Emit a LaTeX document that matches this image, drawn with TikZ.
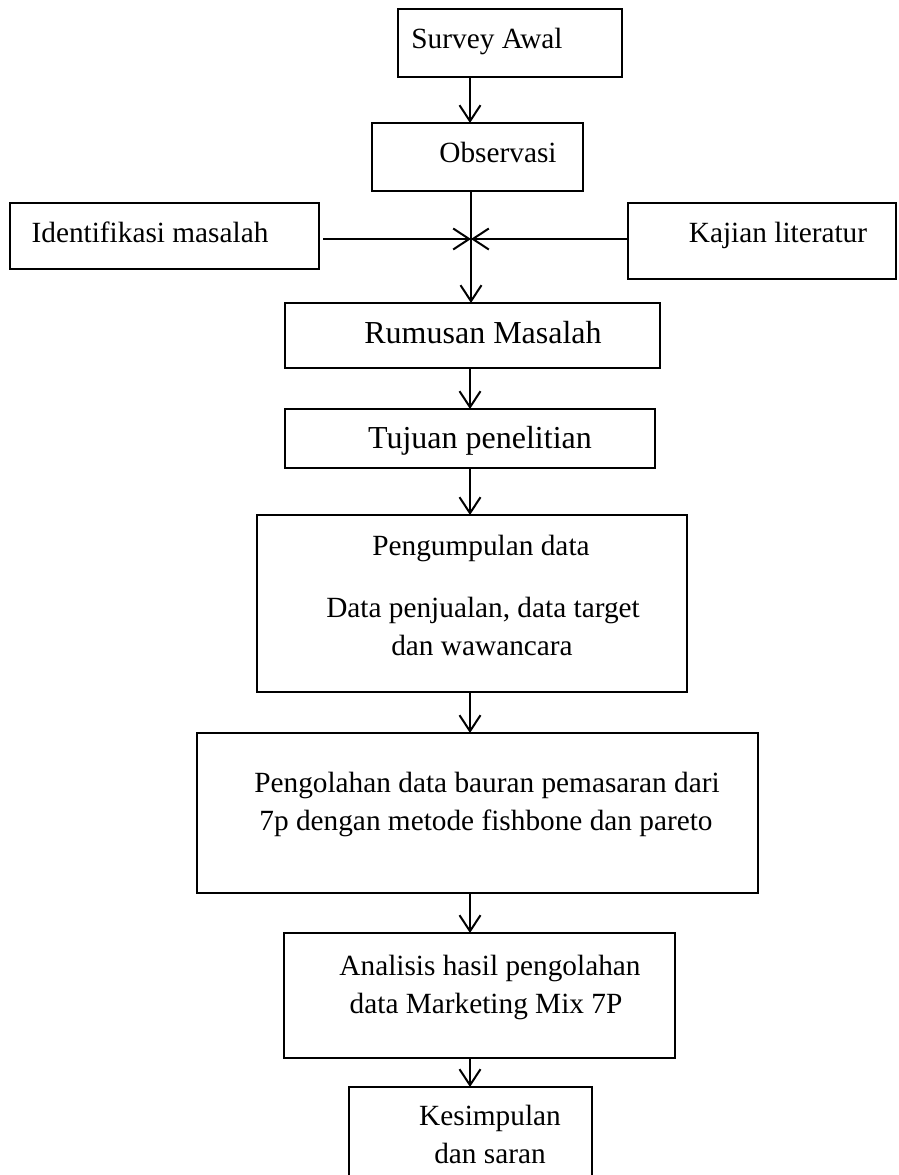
\documentclass[tikz,border=0pt]{standalone}
\usepackage{fontspec}
\setmainfont{Liberation Serif}
\usetikzlibrary{arrows.meta}
\begin{document}
\begin{tikzpicture}[x=1pt,y=-1pt,
  box/.style={draw=black,line width=2.6pt,inner sep=0pt,outer sep=0pt},
  arr/.style={draw=black,line width=2pt,-{Straight Barb[length=16pt,width=21pt,line width=2pt]}},
  txt/.style={anchor=base,inner sep=0pt,font=\fontsize{29.3}{38}\selectfont},
  bigtxt/.style={anchor=base,inner sep=0pt,font=\fontsize{32}{38}\selectfont}]
\path[use as bounding box] (0,0) rectangle (898,1175);
\clip (0,0) rectangle (898,1175);
% boxes
\node[box,minimum width=224pt,minimum height=68pt] (sa) at (510,43) {};
\node[box,minimum width=211pt,minimum height=68pt] (ob) at (477.5,157) {};
\node[box,minimum width=309pt,minimum height=66pt] (im) at (164.5,236) {};
\node[box,minimum width=268pt,minimum height=76pt] (kl) at (762,241) {};
\node[box,minimum width=375pt,minimum height=65pt] (rm) at (472.5,335.5) {};
\node[box,minimum width=370pt,minimum height=59pt] (tp) at (470,438.5) {};
\node[box,minimum width=430pt,minimum height=177pt] (pd) at (472,603.5) {};
\node[box,minimum width=561pt,minimum height=160pt] (po) at (477.5,813) {};
\node[box,minimum width=391pt,minimum height=125pt] (an) at (479.5,995.5) {};
\node[box,minimum width=243pt,minimum height=103pt] (ks) at (470.5,1138.5) {};
% texts
\node[txt] (tsa) at (487,48) {Survey Awal};
\node[txt] (tob) at (498,162) {Observasi};
\node[txt] (tim) at (150,242) {Identifikasi masalah};
\node[txt] (tkl) at (778,242) {Kajian literatur};
\node[bigtxt] (trm) at (483,343) {Rumusan Masalah};
\node[bigtxt] (ttp) at (480,448) {Tujuan penelitian};
\node[txt] (tpd1) at (481,555) {Pengumpulan data};
\node[txt] (tpd2) at (483,617) {Data penjualan, data target};
\node[txt] (tpd3) at (482,655) {dan wawancara};
\node[txt] (tpo1) at (487,792) {Pengolahan data bauran pemasaran dari};
\node[txt] (tpo2) at (486,830) {7p dengan metode fishbone dan pareto};
\node[txt] (tan1) at (490,975) {Analisis hasil pengolahan};
\node[txt] (tan2) at (486,1013) {data Marketing Mix 7P};
\node[txt] (tks1) at (490,1125) {Kesimpulan};
\node[txt] (tks2) at (490,1163) {dan saran};
% connectors
\coordinate (ax) at (470,0);
\coordinate (j) at (471,239);
\draw[arr] (sa.south -| ax) -- (ob.north -| ax);
\draw[arr] (ob.south -| j) -- (rm.north -| j);
\draw[arr] ([xshift=4pt]im.east |- j) -- (j);
\draw[arr] (kl.west |- j) -- (j);
\draw[arr] (rm.south -| ax) -- (tp.north -| ax);
\draw[arr] (tp.south -| ax) -- (pd.north -| ax);
\draw[arr] (pd.south -| ax) -- (po.north -| ax);
\draw[arr] (po.south -| ax) -- (an.north -| ax);
\draw[arr] (an.south -| ax) -- (ks.north -| ax);
\end{tikzpicture}
\end{document}
